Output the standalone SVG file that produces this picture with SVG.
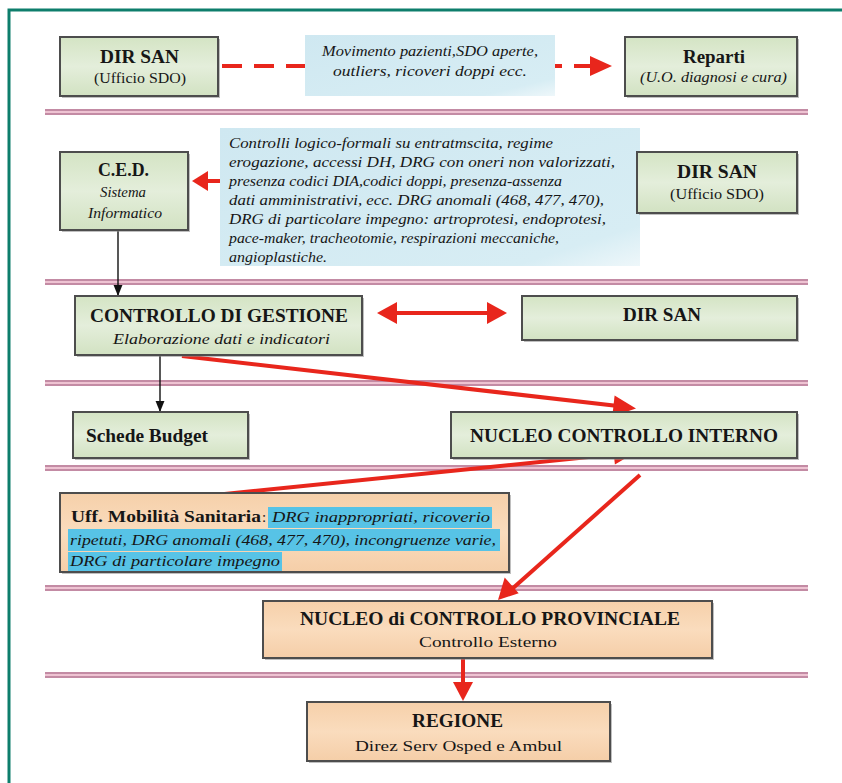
<svg xmlns="http://www.w3.org/2000/svg" width="842" height="783" viewBox="0 0 842 783" font-family="Times New Roman, Liberation Serif, Tinos, serif">
<defs>
<linearGradient id="gGreen" x1="0" y1="0" x2="0" y2="1"><stop offset="0" stop-color="#d4e4c4"/><stop offset="0.5" stop-color="#e4eedb"/><stop offset="1" stop-color="#d2e2c2"/></linearGradient>
<linearGradient id="gPeach" x1="0" y1="0" x2="0" y2="1"><stop offset="0" stop-color="#f6d0aa"/><stop offset="0.5" stop-color="#fadcbd"/><stop offset="1" stop-color="#f5cea8"/></linearGradient>
<linearGradient id="gBlue" x1="0" y1="0" x2="1" y2="1"><stop offset="0" stop-color="#cfe8f1"/><stop offset="0.85" stop-color="#d7edf4"/><stop offset="1" stop-color="#eef7fa"/></linearGradient>
<marker id="ab" viewBox="0 0 10 10" refX="9" refY="5" markerWidth="8" markerHeight="8" orient="auto" markerUnits="strokeWidth"><path d="M0,1 L10,5 L0,9 z" fill="#111"/></marker>
</defs>
<style>
.gb{fill:url(#gGreen);stroke:#4d4d4d;stroke-width:2}
.pb{fill:url(#gPeach);stroke:#4d4d4d;stroke-width:2}
.sh{fill:#8a8a8a;opacity:0.55}
.bl{fill:url(#gBlue)}
text{font-family:"Times New Roman","Liberation Serif",Tinos,serif;fill:#161616}
.b{font-weight:bold;font-size:18px}
.r{font-size:15.5px}
.i{font-style:italic;font-size:15px}
.sep rect{fill:#eec3d2}
.sep line{stroke:#b57895;stroke-width:1.6}
.red{stroke:#e8261c;stroke-width:4;fill:none}
.rh{fill:#e8261c}
.blk{stroke:#111;stroke-width:1.4;fill:none}
</style>
<rect width="842" height="783" fill="#ffffff"/>
<path d="M9,783 V10 H842" fill="none" stroke="#0e7e6c" stroke-width="3"/>

<g id="separators" class="sep">
<rect x="45" y="109" width="763" height="6"/><line x1="45" y1="110" x2="808" y2="110"/><line x1="45" y1="114" x2="808" y2="114"/>
<rect x="45" y="279" width="763" height="6"/><line x1="45" y1="280" x2="808" y2="280"/><line x1="45" y1="284" x2="808" y2="284"/>
<rect x="45" y="380" width="763" height="6"/><line x1="45" y1="381" x2="808" y2="381"/><line x1="45" y1="385" x2="808" y2="385"/>
<rect x="45" y="465" width="763" height="6"/><line x1="45" y1="466" x2="808" y2="466"/><line x1="45" y1="470" x2="808" y2="470"/>
<rect x="45" y="585" width="763" height="6"/><line x1="45" y1="586" x2="808" y2="586"/><line x1="45" y1="590" x2="808" y2="590"/>
<rect x="45" y="672" width="763" height="6"/><line x1="45" y1="673" x2="808" y2="673"/><line x1="45" y1="677" x2="808" y2="677"/>
</g>

<g id="connectors">
<line x1="222" y1="66" x2="604" y2="66" class="red" stroke-dasharray="20,12"/>
<path d="M590,56 L612,66 L590,76 z" class="rh"/>
<line x1="222" y1="181" x2="205" y2="181" class="red"/>
<path d="M208,171 L192,181 L208,191 z" class="rh"/>
<line x1="612" y1="181" x2="625" y2="181" class="red"/>
<path d="M622,171 L638,181 L622,191 z" class="rh"/>
<line x1="392" y1="313" x2="492" y2="313" class="red"/>
<path d="M397,302 L377,313 L397,324 z" class="rh"/>
<path d="M487,302 L507,313 L487,324 z" class="rh"/>
<line x1="182" y1="356" x2="618" y2="406" class="red"/>
<path d="M614.6,395.5 L636,408.5 L612.3,416.4 z" class="rh"/>
<line x1="205" y1="496" x2="618" y2="454" class="red"/>
<path d="M612.7,443.7 L636,452 L614.9,464.6 z" class="rh"/>
<line x1="640" y1="475" x2="512" y2="589" class="red"/>
<path d="M504.7,577.5 L498,600 L518.7,593.2 z" class="rh"/>
<line x1="463" y1="659" x2="463" y2="685" class="red"/>
<path d="M453,682 L463,701 L473,682 z" class="rh"/>
<line x1="118" y1="231" x2="118" y2="295" class="blk" marker-end="url(#ab)"/>
<line x1="160" y1="356" x2="160" y2="411" class="blk" marker-end="url(#ab)"/>
</g>

<g id="n-dirsan1">
<rect x="62" y="39" width="158" height="59" class="sh"/>
<rect x="60" y="37" width="158" height="59" class="gb"/>
<text x="100" y="63" class="b" textLength="79" lengthAdjust="spacingAndGlyphs">DIR SAN</text>
<text x="94" y="83" class="r" textLength="92" lengthAdjust="spacingAndGlyphs">(Ufficio SDO)</text>
</g>

<g id="n-movimento">
<rect x="305" y="35" width="250" height="61" class="bl"/>
<text x="322" y="56" class="i" textLength="216" lengthAdjust="spacingAndGlyphs">Movimento pazienti,SDO aperte,</text>
<text x="333" y="76" class="i" textLength="194" lengthAdjust="spacingAndGlyphs">outliers, ricoveri doppi ecc.</text>
</g>

<g id="n-reparti">
<rect x="627" y="39" width="172" height="59" class="sh"/>
<rect x="625" y="37" width="172" height="59" class="gb"/>
<text x="683" y="63" class="b" textLength="62" lengthAdjust="spacingAndGlyphs">Reparti</text>
<text x="640" y="82" class="i" textLength="147" lengthAdjust="spacingAndGlyphs">(U.O. diagnosi e cura)</text>
</g>

<g id="n-ced">
<rect x="62" y="154" width="128" height="78" class="sh"/>
<rect x="60" y="152" width="128" height="78" class="gb"/>
<text x="98" y="176" class="b" textLength="51" lengthAdjust="spacingAndGlyphs">C.E.D.</text>
<text x="100" y="197" class="i" textLength="46" lengthAdjust="spacingAndGlyphs">Sistema</text>
<text x="88" y="218" class="i" textLength="74" lengthAdjust="spacingAndGlyphs">Informatico</text>
</g>

<g id="n-controlli">
<rect x="220" y="128" width="420" height="138" class="bl"/>
<text x="229" y="148" class="i" textLength="324" lengthAdjust="spacingAndGlyphs">Controlli logico-formali su entratmscita, regime</text>
<text x="229" y="167" class="i" textLength="386" lengthAdjust="spacingAndGlyphs">erogazione, accessi DH, DRG con oneri non valorizzati,</text>
<text x="229" y="186" class="i" textLength="333" lengthAdjust="spacingAndGlyphs">presenza codici DIA,codici doppi, presenza-assenza</text>
<text x="229" y="205" class="i" textLength="375" lengthAdjust="spacingAndGlyphs">dati amministrativi, ecc. DRG anomali (468, 477, 470),</text>
<text x="229" y="224" class="i" textLength="377" lengthAdjust="spacingAndGlyphs">DRG di particolare impegno: artroprotesi, endoprotesi,</text>
<text x="229" y="243" class="i" textLength="330" lengthAdjust="spacingAndGlyphs">pace-maker, tracheotomie, respirazioni meccaniche,</text>
<text x="229" y="262" class="i" textLength="98" lengthAdjust="spacingAndGlyphs">angioplastiche.</text>
</g>

<g id="n-dirsan2">
<rect x="639" y="154" width="160" height="61" class="sh"/>
<rect x="637" y="152" width="160" height="61" class="gb"/>
<text x="677" y="178" class="b" textLength="80" lengthAdjust="spacingAndGlyphs">DIR SAN</text>
<text x="670" y="199" class="r" textLength="94" lengthAdjust="spacingAndGlyphs">(Ufficio SDO)</text>
</g>

<g id="n-cdg">
<rect x="77" y="298" width="287" height="59" class="sh"/>
<rect x="75" y="296" width="287" height="59" class="gb"/>
<text x="90" y="322" class="b" textLength="258" lengthAdjust="spacingAndGlyphs">CONTROLLO DI GESTIONE</text>
<text x="113" y="344" class="i" textLength="217" lengthAdjust="spacingAndGlyphs">Elaborazione dati e indicatori</text>
</g>

<g id="n-dirsan3">
<rect x="524" y="298" width="275" height="44" class="sh"/>
<rect x="522" y="296" width="275" height="44" class="gb"/>
<text x="623" y="321" class="b" textLength="78" lengthAdjust="spacingAndGlyphs">DIR SAN</text>
</g>

<g id="n-budget">
<rect x="75" y="414" width="175" height="46" class="sh"/>
<rect x="73" y="412" width="175" height="46" class="gb"/>
<text x="86" y="442" class="b" textLength="122" lengthAdjust="spacingAndGlyphs">Schede Budget</text>
</g>

<g id="n-nci">
<rect x="453" y="414" width="346" height="46" class="sh"/>
<rect x="451" y="412" width="346" height="46" class="gb"/>
<text x="470" y="442" class="b" textLength="308" lengthAdjust="spacingAndGlyphs">NUCLEO CONTROLLO INTERNO</text>
</g>

<g id="n-mobilita">
<rect x="62" y="495" width="449" height="79" class="sh"/>
<rect x="60" y="493" width="449" height="79" class="pb"/>
<rect x="268" y="507" width="224" height="21" fill="#57c3e6"/>
<rect x="68" y="529" width="432" height="22" fill="#57c3e6"/>
<rect x="68" y="552" width="214" height="19" fill="#57c3e6"/>
<text x="71" y="522" font-weight="bold" font-size="17" textLength="190" lengthAdjust="spacingAndGlyphs">Uff. Mobilità Sanitaria</text>
<text x="262" y="522" font-size="15">:</text>
<text x="272" y="522" class="i" textLength="218" lengthAdjust="spacingAndGlyphs">DRG inappropriati, ricoverio</text>
<text x="70" y="545" class="i" textLength="426" lengthAdjust="spacingAndGlyphs">ripetuti, DRG anomali (468, 477, 470), incongruenze varie,</text>
<text x="70" y="566" class="i" textLength="210" lengthAdjust="spacingAndGlyphs">DRG di particolare impegno</text>
</g>

<g id="n-provinciale">
<rect x="265" y="603" width="449" height="57" class="sh"/>
<rect x="263" y="601" width="449" height="57" class="pb"/>
<text x="300" y="625" class="b" textLength="380" lengthAdjust="spacingAndGlyphs">NUCLEO di CONTROLLO PROVINCIALE</text>
<text x="419" y="647" class="r" textLength="138" lengthAdjust="spacingAndGlyphs">Controllo Esterno</text>
</g>

<g id="n-regione">
<rect x="309" y="704" width="303" height="59" class="sh"/>
<rect x="307" y="702" width="303" height="59" class="pb"/>
<text x="412" y="727" class="b" textLength="91" lengthAdjust="spacingAndGlyphs">REGIONE</text>
<text x="355" y="751" class="r" textLength="207" lengthAdjust="spacingAndGlyphs">Direz Serv Osped e Ambul</text>
</g>
</svg>
